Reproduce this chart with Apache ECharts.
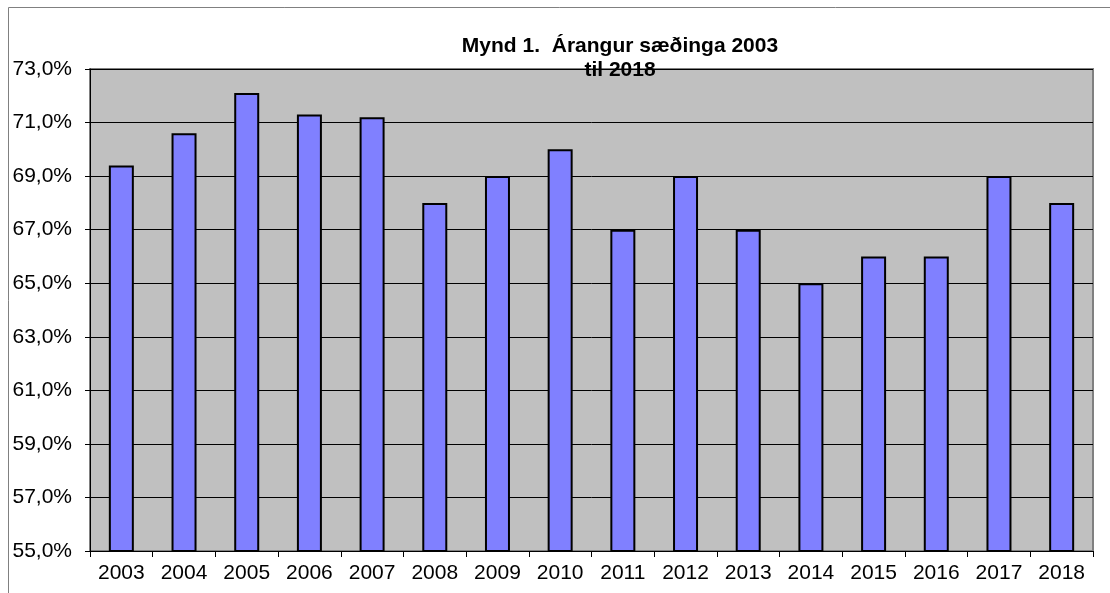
<!DOCTYPE html>
<html>
<head>
<meta charset="utf-8">
<script src="https://cdn.jsdelivr.net/npm/echarts@6/dist/echarts.min.js"></script>
<style>
  html, body { margin: 0; padding: 0; background: #fff; }
  #chart { width: 1110px; height: 593px; }
</style>
</head>
<body>
<div id="chart"></div>
<script>
  // ár og árangur sæðinga (%)
  const years = ['2003', '2004', '2005', '2006', '2007', '2008', '2009', '2010',
                 '2011', '2012', '2013', '2014', '2015', '2016', '2017', '2018'];
  const arangur = [69.4, 70.6, 72.1, 71.3, 71.2, 68.0, 69.0, 70.0,
                   67.0, 69.0, 67.0, 65.0, 66.0, 66.0, 69.0, 68.0];
  const yMin = 55, yMax = 73, yStep = 2;

  const chart = echarts.init(document.getElementById('chart'));
  const option = {
    backgroundColor: '#ffffff',
    animation: false,
    textStyle: { fontFamily: '"Liberation Sans", Arial, sans-serif' },
    title: {
      text: 'Mynd 1.  Árangur sæðinga 2003\ntil 2018',
      left: 615,
      top: 29,
      textAlign: 'center',
      textStyle: { fontSize: 21, fontWeight: 'bold', color: '#000', lineHeight: 24 }
    },
    graphic: [{
      type: 'rect',
      shape: { x: 8.5, y: 7.5, width: 1200, height: 700 },
      style: { fill: 'none', stroke: '#808080', lineWidth: 1 },
      silent: true
    }],
    grid: {
      left: 90, right: 17, top: 69, bottom: 42,
      show: true,
      backgroundColor: '#c0c0c0',
      borderColor: '#808080',
      borderWidth: 2
    },
    xAxis: {
      type: 'category',
      data: years,
      axisLine: { lineStyle: { color: '#000', width: 1 } },
      axisTick: { show: true, inside: false, length: 6, lineStyle: { color: '#000' } },
      axisLabel: { color: '#000', fontSize: 21, margin: 12 },
      splitLine: { show: false }
    },
    yAxis: {
      type: 'value',
      min: yMin,
      max: yMax,
      interval: yStep,
      axisLine: { show: true, lineStyle: { color: '#000', width: 1 } },
      axisTick: { show: true, length: 5, lineStyle: { color: '#000' } },
      axisLabel: {
        color: '#000', fontSize: 21, margin: 18,
        formatter: v => v.toFixed(1).replace('.', ',') + '%'
      },
      splitLine: { show: true, lineStyle: { color: '#000', width: 1 } }
    },
    series: [{
      name: 'Árangur',
      type: 'bar',
      data: arangur,
      barWidth: 25,
      itemStyle: { color: '#8080ff', borderColor: '#000', borderWidth: 2 }
    }]
  };
  chart.setOption(option);
</script>
</body>
</html>
